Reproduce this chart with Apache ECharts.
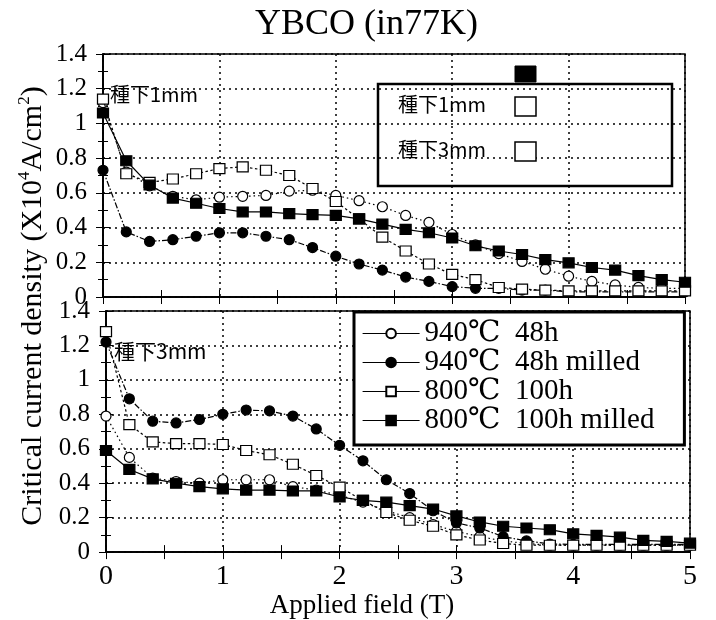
<!DOCTYPE html>
<html>
<head>
<meta charset="utf-8">
<script src="https://cdn.jsdelivr.net/npm/echarts@6/dist/echarts.min.js"></script>
<style>
  html, body { margin: 0; padding: 0; background: #fff; }
  #chart { width: 716px; height: 620px; }
</style>
</head>
<body>
<div id="chart"></div>
<script>
  // applied field (T), every 0.2 T
  var fieldT = [0, 0.2, 0.4, 0.6, 0.8, 1.0, 1.2, 1.4, 1.6, 1.8, 2.0, 2.2, 2.4,
    2.6, 2.8, 3.0, 3.2, 3.4, 3.6, 3.8, 4.0, 4.2, 4.4, 4.6, 4.8, 5.0];

  var seriesNames = ['940℃  48h', '940℃  48h milled', '800℃  100h', '800℃  100h milled'];

  // 種下1mm (upper panel)
  var top940 = [1.12, 0.72, 0.64, 0.58, 0.56, 0.575, 0.58, 0.585, 0.61, 0.615, 0.585, 0.555, 0.52,
    0.47, 0.43, 0.36, 0.30, 0.25, 0.205, 0.16, 0.12, 0.09, 0.07, 0.055, 0.05, 0.05];
  var top940m = [0.73, 0.375, 0.32, 0.33, 0.35, 0.37, 0.37, 0.35, 0.33, 0.285, 0.235, 0.19, 0.155,
    0.115, 0.09, 0.06, 0.05, 0.05, 0.04, 0.04, 0.03, 0.03, 0.03, 0.03, 0.03, 0.03];
  var top800 = [1.14, 0.71, 0.66, 0.68, 0.71, 0.74, 0.75, 0.73, 0.70, 0.625, 0.55, 0.45, 0.345,
    0.265, 0.19, 0.13, 0.10, 0.055, 0.045, 0.04, 0.035, 0.035, 0.035, 0.035, 0.035, 0.035];
  var top800m = [1.06, 0.785, 0.645, 0.57, 0.54, 0.51, 0.49, 0.49, 0.48, 0.475, 0.47, 0.45, 0.42,
    0.39, 0.37, 0.34, 0.295, 0.265, 0.245, 0.215, 0.197, 0.17, 0.155, 0.123, 0.10, 0.085];

  // 種下3mm (lower panel)
  var bot940 = [0.79, 0.55, 0.43, 0.41, 0.40, 0.42, 0.42, 0.42, 0.38, 0.36, 0.33, 0.29, 0.24,
    0.20, 0.16, 0.12, 0.09, 0.065, 0.05, 0.04, 0.04, 0.04, 0.04, 0.04, 0.04, 0.04];
  var bot940m = [1.22, 0.89, 0.76, 0.75, 0.77, 0.80, 0.825, 0.82, 0.79, 0.715, 0.62, 0.53, 0.42,
    0.34, 0.24, 0.17, 0.14, 0.09, 0.065, 0.047, 0.045, 0.045, 0.045, 0.045, 0.045, 0.045];
  var bot800 = [1.28, 0.74, 0.64, 0.63, 0.63, 0.625, 0.59, 0.565, 0.51, 0.445, 0.377, 0.30, 0.23,
    0.185, 0.15, 0.10, 0.07, 0.05, 0.04, 0.04, 0.04, 0.04, 0.04, 0.04, 0.04, 0.04];
  var bot800m = [0.59, 0.48, 0.425, 0.40, 0.38, 0.367, 0.36, 0.36, 0.355, 0.355, 0.32, 0.30, 0.29,
    0.27, 0.25, 0.21, 0.175, 0.15, 0.14, 0.13, 0.106, 0.097, 0.087, 0.068, 0.062, 0.052];

  var yTicks = { min: 0, max: 1.4, interval: 0.2 };
  var serif = "'Liberation Serif', 'DejaVu Serif', serif";
  var cjk = "'Noto Sans CJK JP', sans-serif";

  var chart = echarts.init(document.getElementById('chart'));

  function pairs(vals) {
    return fieldT.map(function (t, i) { return [t, vals[i]]; });
  }

  // marker / line look for each of the four samples
  var looks = [
    { symbol: 'circle', fill: '#fff', dash: [1.5, 3] },
    { symbol: 'circle', fill: '#000', dash: [6, 2, 1.5, 2] },
    { symbol: 'rect', fill: '#fff', dash: [2.5, 2.5] },
    { symbol: 'rect', fill: '#000', dash: 'solid' }
  ];

  function makeSeries(idx, vals, axisIdx) {
    var lk = looks[idx];
    return {
      name: seriesNames[idx],
      type: 'line',
      xAxisIndex: axisIdx * 2,
      yAxisIndex: axisIdx * 2,
      data: pairs(vals),
      symbol: lk.symbol,
      symbolSize: lk.symbol === 'rect' ? [11, 10] : 10,
      showAllSymbol: true,
      clip: false,
      lineStyle: { color: '#000', width: 1.2, type: lk.dash },
      itemStyle: { color: lk.fill, borderColor: '#000', borderWidth: 1.2 },
      emphasis: { disabled: true },
      z: 3 + idx
    };
  }

  function xAxes(grid, withLabels) {
    return [{
      type: 'value', gridIndex: grid, min: 0, max: 5, interval: 1, position: 'bottom',
      axisLine: { lineStyle: { color: '#000', width: 1.5 } },
      axisTick: { inside: true, length: 7, lineStyle: { color: '#000' } },
      minorTick: { show: true, splitNumber: 2, length: 7, lineStyle: { color: '#000' } },
      axisLabel: { show: withLabels, color: '#000', fontFamily: serif, fontSize: 28, margin: 11 },
      splitLine: { show: true, lineStyle: { color: '#000', width: 1.5, type: [2, 4] } },
      name: withLabels ? 'Applied field (T)' : '',
      nameLocation: 'middle', nameGap: 36,
      nameTextStyle: { color: '#000', fontFamily: serif, fontSize: 27, padding: [0, 72, 0, 0] }
    }, {
      type: 'value', gridIndex: grid, min: 0, max: 5, interval: 1, position: 'top',
      axisLine: { lineStyle: { color: '#000', width: 1.5 } },
      axisTick: { inside: true, length: 7, lineStyle: { color: '#000' } },
      minorTick: { show: true, splitNumber: 2, length: 7, lineStyle: { color: '#000' } },
      axisLabel: { show: false },
      splitLine: { show: false }
    }];
  }

  function yAxes(grid) {
    return [{
      type: 'value', gridIndex: grid, min: yTicks.min, max: yTicks.max, interval: yTicks.interval,
      position: 'left',
      axisLine: { show: true, lineStyle: { color: '#000', width: 1.5 } },
      axisTick: { inside: true, length: 7, lineStyle: { color: '#000' } },
      minorTick: { show: true, splitNumber: 2, length: 5, lineStyle: { color: '#000' } },
      axisLabel: { color: '#000', fontFamily: serif, fontSize: 25, margin: 16 },
      splitLine: { show: true, lineStyle: { color: '#000', width: 1.5, type: [2, 4] } }
    }, {
      type: 'value', gridIndex: grid, min: yTicks.min, max: yTicks.max, interval: yTicks.interval,
      position: 'right',
      axisLine: { show: true, lineStyle: { color: '#000', width: 1.5 } },
      axisTick: { inside: true, length: 7, lineStyle: { color: '#000' } },
      minorTick: { show: true, splitNumber: 2, length: 5, lineStyle: { color: '#000' } },
      axisLabel: { show: false },
      splitLine: { show: false }
    }];
  }

  var option = {
    animation: false,
    backgroundColor: '#fff',
    title: {
      text: 'YBCO (in77K)', left: 250, top: 2,
      textStyle: { color: '#000', fontFamily: serif, fontSize: 36, fontWeight: 'normal' }
    },
    grid: [
      { left: 103, top: 54, right: 31, height: 243, show: true, borderColor: '#000', borderWidth: 1.5 },
      { left: 106, top: 311, right: 26, height: 243, show: true, borderColor: '#000', borderWidth: 1.5 }
    ],
    xAxis: xAxes(0, false).concat(xAxes(1, true)),
    yAxis: yAxes(0).concat(yAxes(1)),
    legend: {
      orient: 'vertical', left: 354, top: 312,
      padding: [7, 30, 10, 8],
      itemGap: 0, itemWidth: 57, itemHeight: 12,
      backgroundColor: '#fff', borderColor: '#000', borderWidth: 3,
      selectedMode: false,
      data: seriesNames,
      lineStyle: { type: 'solid', width: 1.2 },
      textStyle: { color: '#000', fontFamily: serif, fontSize: 29, lineHeight: 27 }
    },
    graphic: [
      { type: 'text', left: 110, top: 84,
        style: { text: '種下1mm', fill: '#000', font: '20px ' + cjk } },
      { type: 'text', left: 114, top: 341,
        style: { text: '種下3mm', fill: '#000', font: '21px ' + cjk } },
      // upper-panel key
      { type: 'rect', shape: { x: 378, y: 84, width: 294, height: 102 },
        style: { fill: 'none', stroke: '#000', lineWidth: 2.5 }, z: 10 },
      { type: 'rect', shape: { x: 515, y: 66, width: 21, height: 16 },
        style: { fill: '#000', stroke: '#000' }, z: 10 },
      { type: 'text', x: 398, y: 104,
        style: { text: '種下1mm', fill: '#000', font: '20px ' + cjk, verticalAlign: 'middle' }, z: 10 },
      { type: 'rect', shape: { x: 515, y: 97, width: 21, height: 19 },
        style: { fill: '#fff', stroke: '#000', lineWidth: 1.5 }, z: 10 },
      { type: 'text', x: 398, y: 149,
        style: { text: '種下3mm', fill: '#000', font: '20px ' + cjk, verticalAlign: 'middle' }, z: 10 },
      { type: 'rect', shape: { x: 515, y: 142, width: 21, height: 19 },
        style: { fill: '#fff', stroke: '#000', lineWidth: 1.5 }, z: 10 },
      // shared y-axis title
      { type: 'text', x: 33, y: 306, rotation: Math.PI / 2,
        style: {
          text: 'Critical current density (X10{sup|4}A/cm{sup|2})',
          fill: '#000', fontFamily: serif, fontSize: 30,
          align: 'center', verticalAlign: 'middle', lineHeight: 34,
          rich: { sup: { fontFamily: serif, fontSize: 17, verticalAlign: 'top', lineHeight: 34 } }
        } }
    ],
    series: [
      makeSeries(0, top940, 0), makeSeries(1, top940m, 0),
      makeSeries(2, top800, 0), makeSeries(3, top800m, 0),
      makeSeries(0, bot940, 1), makeSeries(1, bot940m, 1),
      makeSeries(2, bot800, 1), makeSeries(3, bot800m, 1)
    ]
  };

  chart.setOption(option);
</script>
</body>
</html>
